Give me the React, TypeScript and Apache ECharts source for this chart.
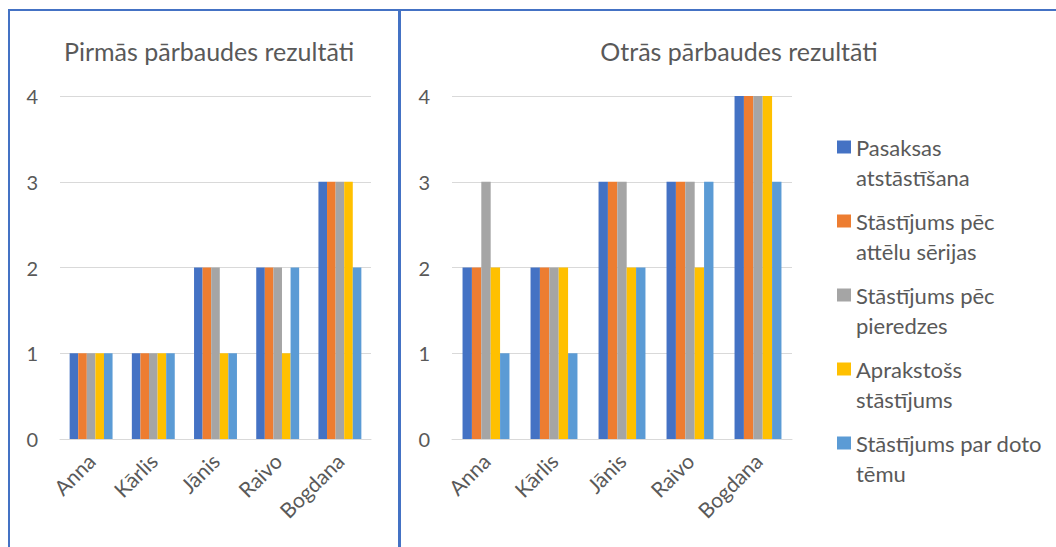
import React, { useEffect, useRef } from "react";
import * as echarts from "echarts";

const categories = ["Anna", "Kārlis", "Jānis", "Raivo", "Bogdana"];
const seriesNames = [
  "Pasaksas atstāstīšana",
  "Stāstījums pēc attēlu sērijas",
  "Stāstījums pēc pieredzes",
  "Aprakstošs stāstījums",
  "Stāstījums par doto tēmu",
];
const legendLines = [
  "Pasaksas\natstāstīšana",
  "Stāstījums pēc\nattēlu sērijas",
  "Stāstījums pēc\npieredzes",
  "Aprakstošs\nstāstījums",
  "Stāstījums par doto\ntēmu",
];
const colors = ["#4472C4", "#ED7D31", "#A5A5A5", "#FFC000", "#5B9BD5"];
const titles = ["Pirmās pārbaudes rezultāti", "Otrās pārbaudes rezultāti"];
const yTicks = [0, 1, 2, 3, 4];

// first test (by series)
const first1 = [1, 1, 2, 2, 3];
const first2 = [1, 1, 2, 2, 3];
const first3 = [1, 1, 2, 2, 3];
const first4 = [1, 1, 1, 1, 3];
const first5 = [1, 1, 1, 2, 2];
// second test (by series)
const second1 = [2, 2, 3, 3, 4];
const second2 = [2, 2, 3, 3, 4];
const second3 = [3, 2, 3, 3, 4];
const second4 = [2, 2, 2, 2, 4];
const second5 = [1, 1, 2, 3, 3];

const firstData = [first1, first2, first3, first4, first5];
const secondData = [second1, second2, second3, second4, second5];

const FONT = "Lato, 'Open Sans', sans-serif";
const TEXT = "#595959";

export default function App() {
  const ref = useRef<HTMLDivElement>(null);
  useEffect(() => {
    if (!ref.current) return;
    const chart = echarts.init(ref.current, undefined, { renderer: "svg" });
    const makeX = (gi: number) => ({
      type: "category",
      gridIndex: gi,
      data: categories,
      axisLine: { show: true, lineStyle: { color: "#D9D9D9", width: 1 } },
      axisTick: { show: false },
      axisLabel: {
        rotate: 45,
        margin: 18,
        fontSize: 21,
        color: TEXT,
        fontFamily: FONT,
        interval: 0,
      },
    });
    const makeY = (gi: number) => ({
      type: "value",
      gridIndex: gi,
      min: yTicks[0],
      max: yTicks[yTicks.length - 1],
      interval: 1,
      axisLine: { show: false },
      axisTick: { show: false },
      axisLabel: { fontSize: 20, color: TEXT, fontFamily: FONT, margin: 22 },
      splitLine: { lineStyle: { color: "#D9D9D9", width: 1 } },
    });
    const series: any[] = [];
    [firstData, secondData].forEach((set, gi) => {
      set.forEach((vals, si) => {
        series.push({
          type: "bar",
          name: seriesNames[si],
          xAxisIndex: gi,
          yAxisIndex: gi,
          data: vals,
          barGap: "0%",
          barCategoryGap: "31%",
          itemStyle: { color: colors[si] },
        });
      });
    });
    const titleStyle = { fontSize: 25, fontWeight: "normal", color: TEXT, fontFamily: FONT };
    chart.setOption({
      animation: false,
      color: colors,
      title: [
        { text: titles[0], left: 204, top: 33, textAlign: "center", textStyle: titleStyle },
        { text: titles[1], left: 734, top: 33, textAlign: "center", textStyle: titleStyle },
      ],
      legend: {
        orient: "vertical",
        left: 832,
        top: 97,
        itemWidth: 14,
        itemHeight: 13,
        itemGap: -16,
        icon: "rect",
        data: seriesNames,
        formatter: (name: string) => "\n" + legendLines[seriesNames.indexOf(name)],
        textStyle: { fontSize: 22, lineHeight: 30, color: TEXT, fontFamily: FONT },
      },
      grid: [
        { left: 60, top: 96, width: 311, height: 343 },
        { left: 452, top: 96, width: 340, height: 343 },
      ],
      xAxis: [makeX(0), makeX(1)],
      yAxis: [makeY(0), makeY(1)],
      series,
      graphic: [
        {
          type: "rect",
          shape: { x: 9, y: 10, width: 390, height: 600 },
          style: { fill: "none", stroke: "#4472C4", lineWidth: 2 },
          silent: true,
        },
        {
          type: "rect",
          shape: { x: 400, y: 10, width: 700, height: 600 },
          style: { fill: "none", stroke: "#4472C4", lineWidth: 2 },
          silent: true,
        },
      ],
    });
    return () => chart.dispose();
  }, []);
  return (
    <div
      ref={ref}
      style={{ position: "absolute", left: 0, top: 0, width: 1056, height: 547, background: "#fff" }}
    />
  );
}
